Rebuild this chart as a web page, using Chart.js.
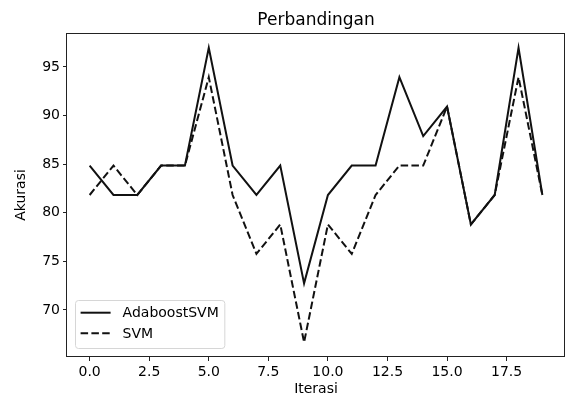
<!DOCTYPE html>
<html>
<head>
<meta charset="utf-8">
<script src="https://cdn.jsdelivr.net/npm/chart.js@4.4.0/dist/chart.umd.min.js"></script>
<style>
body { margin: 0; background: #fff; }
#wrap { width: 566px; height: 400px; }
</style>
</head>
<body>
<div id="wrap"><canvas id="myChart" width="566" height="400"></canvas></div>
<script>
var iterasi = [0, 1, 2, 3, 4, 5, 6, 7, 8, 9, 10, 11, 12, 13, 14, 15, 16, 17, 18, 19];
var akurasi_adaboost = [84.85, 81.82, 81.82, 84.85, 84.85, 96.97, 84.85, 81.82, 84.85, 72.73,
	81.82, 84.85, 84.85, 93.94, 87.88, 90.91, 78.79, 81.82, 96.97, 81.82];
var akurasi_svm = [81.82, 84.85, 81.82, 84.85, 84.85, 93.94, 81.82, 75.76, 78.79, 66.67,
	78.79, 75.76, 81.82, 84.85, 84.85, 90.91, 78.79, 81.82, 93.94, 81.82];
var x_ticks = [0, 2.5, 5, 7.5, 10, 12.5, 15, 17.5];
var y_ticks = [70, 75, 80, 85, 90, 95];
var judul = 'Perbandingan';

var font_family = "'DejaVu Sans', sans-serif";
var font_size = 14;

function toPoints(ys) {
	return iterasi.map(function(x, i) { return {x: x, y: ys[i]}; });
}

// batas sumbu seperti autoscale matplotlib (margin 5%)
var all_y = akurasi_adaboost.concat(akurasi_svm);
var y_lo = Math.min.apply(null, all_y), y_hi = Math.max.apply(null, all_y);
var x_lo = Math.min.apply(null, iterasi), x_hi = Math.max.apply(null, iterasi);
var y_pad = (y_hi - y_lo) * 0.05, x_pad = (x_hi - x_lo) * 0.05;

// bingkai sumbu + judul di tengah area plot
var framePlugin = {
	id: 'frame',
	afterDatasetsDraw: function(chart) {
		var a = chart.chartArea, ctx = chart.ctx;
		ctx.save();
		ctx.strokeStyle = '#222';
		ctx.lineWidth = 1;
		ctx.strokeRect(Math.round(a.left) - 0.5, Math.round(a.top) + 0.5,
			Math.round(a.right - a.left), Math.round(a.bottom - a.top) - 1);
		ctx.fillStyle = '#000';
		ctx.font = '17px ' + font_family;
		ctx.textAlign = 'center';
		ctx.textBaseline = 'alphabetic';
		ctx.fillText(judul, (a.left + a.right) / 2, a.top - 8);
		ctx.restore();
	}
};

// legenda di kiri bawah, gaya matplotlib
var legendPlugin = {
	id: 'mplLegend',
	afterDraw: function(chart) {
		var a = chart.chartArea, ctx = chart.ctx;
		var ds = chart.data.datasets;
		ctx.save();
		ctx.font = font_size + 'px ' + font_family;
		var textW = 0;
		ds.forEach(function(d) { textW = Math.max(textW, ctx.measureText(d.label).width); });
		var pad = 5.6, handle = 30, gap = 12, rowH = 20.5;
		var w = pad + handle + gap + textW + pad;
		var h = 48;
		var x0 = a.left + 8, y0 = a.bottom - 9 - h;
		ctx.beginPath();
		ctx.roundRect(x0 + 0.5, y0 + 0.5, w, h, 3);
		ctx.fillStyle = 'rgba(255,255,255,0.8)';
		ctx.fill();
		ctx.strokeStyle = '#d6d6d6';
		ctx.lineWidth = 1;
		ctx.stroke();
		ds.forEach(function(d, i) {
			var cy = y0 + 12.7 + i * rowH;
			ctx.beginPath();
			ctx.setLineDash(d.borderDash || []);
			ctx.strokeStyle = d.borderColor;
			ctx.lineWidth = d.borderWidth;
			ctx.moveTo(x0 + pad, cy);
			ctx.lineTo(x0 + pad + handle, cy);
			ctx.stroke();
			ctx.setLineDash([]);
			ctx.fillStyle = '#000';
			ctx.textBaseline = 'middle';
			ctx.textAlign = 'left';
			ctx.fillText(d.label, x0 + pad + handle + gap, cy + 1);
		});
		ctx.restore();
	}
};

var config = {
	type: 'line',
	data: {
		datasets: [{
			label: 'AdaboostSVM',
			data: toPoints(akurasi_adaboost),
			borderColor: '#111',
			borderWidth: 2,
			pointRadius: 0,
			tension: 0,
			fill: false
		}, {
			label: 'SVM',
			data: toPoints(akurasi_svm),
			borderColor: '#111',
			borderWidth: 2,
			borderDash: [7.5, 3.3],
			pointRadius: 0,
			tension: 0,
			fill: false
		}]
	},
	options: {
		responsive: false,
		animation: false,
		layout: { padding: { left: 0, right: 1, top: 33, bottom: 0 } },
		plugins: {
			legend: { display: false },
			tooltip: { enabled: false },
			title: { display: false }
		},
		scales: {
			x: {
				type: 'linear',
				min: x_lo - x_pad,
				max: x_hi + x_pad,
				afterBuildTicks: function(s) { s.ticks = x_ticks.map(function(v) { return {value: v}; }); },
				afterFit: function(s) { s.height = 43; },
				grid: { display: true, drawOnChartArea: false, drawTicks: true, tickLength: 4, tickColor: '#222' },
				border: { display: false },
				ticks: {
					color: '#000',
					padding: 3,
					maxRotation: 0,
					autoSkip: false,
					font: { family: font_family, size: font_size },
					callback: function(v) { return Number(v).toFixed(1); }
				},
				title: {
					display: true,
					text: 'Iterasi',
					color: '#000',
					font: { family: font_family, size: font_size },
					padding: { top: 0, bottom: 2 }
				}
			},
			y: {
				min: y_lo - y_pad,
				max: y_hi + y_pad,
				afterBuildTicks: function(s) { s.ticks = y_ticks.map(function(v) { return {value: v}; }); },
				afterFit: function(s) { s.width = 67; },
				grid: { display: true, drawOnChartArea: false, drawTicks: true, tickLength: 4, tickColor: '#222' },
				border: { display: false },
				ticks: {
					color: '#000',
					padding: 3,
					autoSkip: false,
					font: { family: font_family, size: font_size },
					callback: function(v) { return String(v); }
				},
				title: {
					display: true,
					text: 'Akurasi',
					color: '#000',
					font: { family: font_family, size: font_size },
					padding: { top: 13, bottom: 0 }
				}
			}
		}
	},
	plugins: [framePlugin, legendPlugin]
};

window.perbandingan_chart = new Chart(document.getElementById('myChart'), config);
</script>
</body>
</html>
